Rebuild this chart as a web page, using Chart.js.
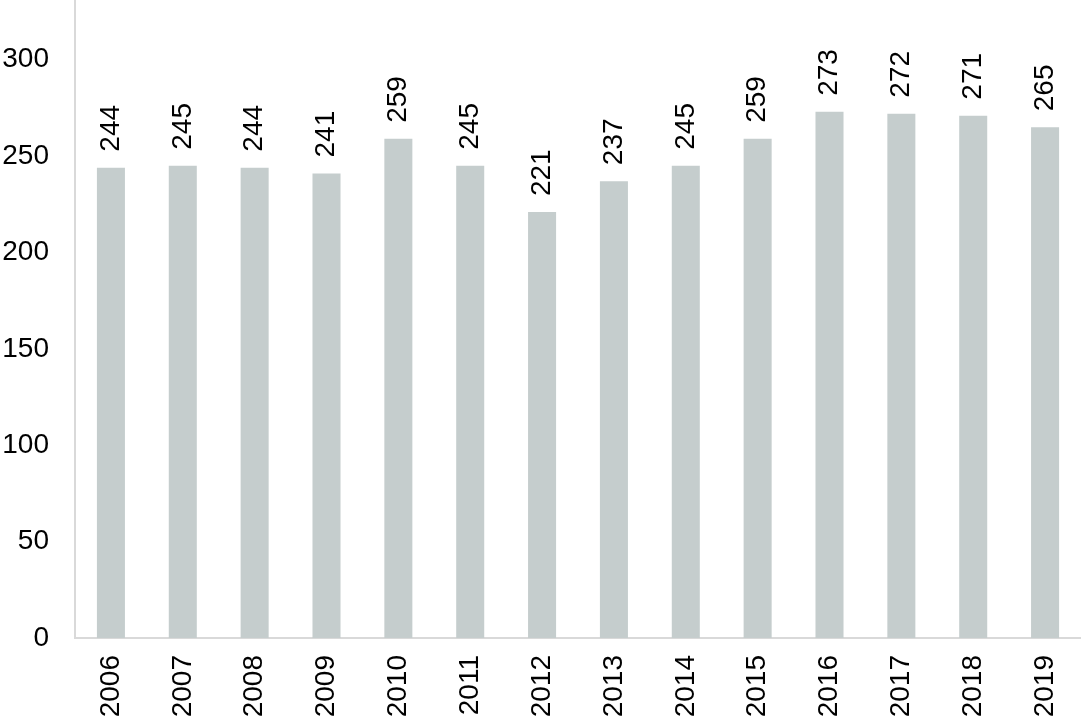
<!DOCTYPE html>
<html>
<head>
<meta charset="utf-8">
<script src="https://cdn.jsdelivr.net/npm/chart.js@4"></script>
<style>
  html, body { margin: 0; padding: 0; background: #fff; }
  #wrap { width: 1081px; height: 726px; }
</style>
</head>
<body>
<div id="wrap"><canvas id="c"></canvas></div>
<script>
const years = ["2006", "2007", "2008", "2009", "2010", "2011", "2012", "2013", "2014", "2015", "2016", "2017", "2018", "2019"];
const values = [244, 245, 244, 241, 259, 245, 221, 237, 245, 259, 273, 272, 271, 265];
const yTicks = [0, 50, 100, 150, 200, 250, 300];

const FONT = "'Liberation Sans', Arial, sans-serif";

// value labels, written upwards above each bar
const barLabels = {
  id: "barLabels",
  afterDatasetsDraw(chart) {
    const ctx = chart.ctx;
    const meta = chart.getDatasetMeta(0);
    ctx.save();
    ctx.font = "28px " + FONT;
    ctx.fillStyle = "#000";
    ctx.textAlign = "left";
    ctx.textBaseline = "middle";
    meta.data.forEach((bar, i) => {
      ctx.save();
      ctx.translate(bar.x, bar.y - 16);
      ctx.rotate(-Math.PI / 2);
      ctx.fillText(String(values[i]), 0, 0);
      ctx.restore();
    });
    ctx.restore();
  }
};

new Chart(document.getElementById("c"), {
  type: "bar",
  data: {
    labels: years,
    datasets: [{
      data: values,
      backgroundColor: "#c5cdcd",
      barPercentage: 0.39,
      categoryPercentage: 1
    }]
  },
  options: {
    responsive: true,
    maintainAspectRatio: false,
    animation: false,
    layout: { padding: 0 },
    plugins: { legend: { display: false }, tooltip: { enabled: false } },
    scales: {
      x: {
        grid: { display: false, drawTicks: false },
        border: { display: true, color: "#d9d9d9", width: 2 },
        ticks: {
          color: "#000",
          font: { family: FONT, size: 28 },
          minRotation: 90,
          maxRotation: 90,
          padding: 17
        },
        afterFit(scale) {
          scale.height = 88;
          scale.paddingLeft = 0;
          scale.paddingRight = 0;
        }
      },
      y: {
        min: 0,
        max: 331,
        grid: { display: false, drawTicks: false },
        border: { display: true, color: "#d9d9d9", width: 2 },
        afterBuildTicks(scale) {
          scale.ticks = yTicks.map(v => ({ value: v }));
        },
        ticks: {
          color: "#000",
          font: { family: FONT, size: 28 },
          padding: 26
        },
        afterFit(scale) {
          scale.width = 75;
          scale.paddingTop = 0;
          scale.paddingBottom = 0;
        }
      }
    }
  },
  plugins: [barLabels]
});
</script>
</body>
</html>
